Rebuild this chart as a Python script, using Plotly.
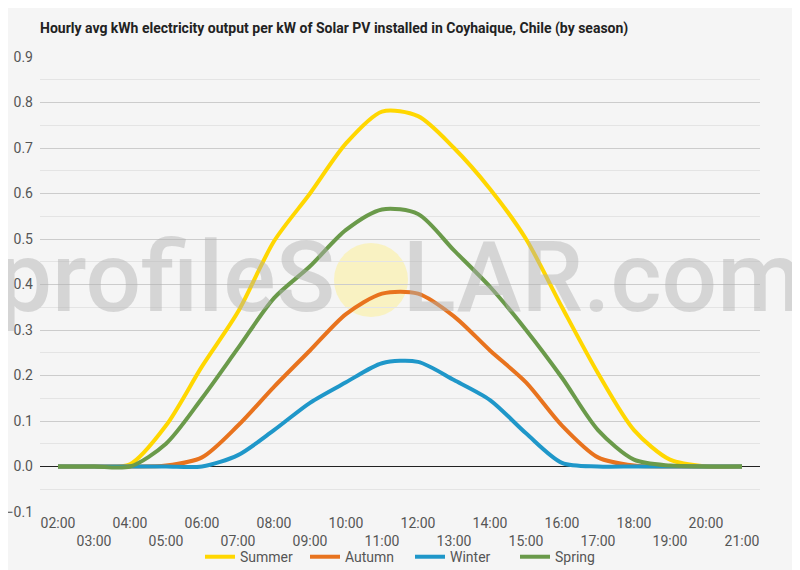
import plotly.graph_objects as go

hours = ["02:00", "03:00", "04:00", "05:00", "06:00", "07:00", "08:00", "09:00", "10:00", "11:00",
         "12:00", "13:00", "14:00", "15:00", "16:00", "17:00", "18:00", "19:00", "20:00", "21:00"]
tick_labels = [h if i % 2 == 0 else "<br>" + h for i, h in enumerate(hours)]

summer = [0, 0, 0.005, 0.09, 0.22, 0.34, 0.495, 0.60, 0.71, 0.78, 0.77, 0.70, 0.61, 0.50, 0.35, 0.205, 0.08, 0.015, 0, 0]
autumn = [0, 0, 0, 0.002, 0.02, 0.09, 0.175, 0.255, 0.335, 0.38, 0.38, 0.33, 0.255, 0.185, 0.09, 0.02, 0.002, 0, 0, 0]
winter = [0, 0, 0, 0, 0, 0.025, 0.08, 0.14, 0.185, 0.227, 0.23, 0.19, 0.146, 0.073, 0.008, 0, 0, 0, 0, 0]
spring = [0, 0, 0, 0.05, 0.15, 0.26, 0.37, 0.44, 0.52, 0.565, 0.555, 0.475, 0.395, 0.30, 0.195, 0.08, 0.015, 0.002, 0, 0]

series = [("Summer", summer, "#FFD700"), ("Autumn", autumn, "#E8731E"),
          ("Winter", winter, "#1F97C9"), ("Spring", spring, "#6A9A4A")]

fig = go.Figure()
for name, vals, col in series:
    fig.add_trace(go.Scatter(x=hours, y=vals, name=name, mode="lines",
                             line=dict(color=col, width=4, shape="spline", smoothing=0.8)))

# page is offset 8px by the browser body margin; plot area spans page x 40-760, y 57-512
fig.add_shape(type="circle", xref="paper", yref="paper",
              x0=(334 - 40) / 720, x1=(408 - 40) / 720,
              y0=(512 - 317) / 455, y1=(512 - 243) / 455,
              fillcolor="rgba(252,240,160,0.6)", line=dict(width=0), layer="below")
fig.add_annotation(xref="paper", yref="paper", x=(400 - 40) / 720, y=(512 - 277) / 455,
                   text='profileS<span style="color:rgba(0,0,0,0)">O</span>LAR.com',
                   showarrow=False, xanchor="center", yanchor="middle",
                   font=dict(family="Roboto", size=98, weight=500, color="rgba(175,175,175,0.45)"))

fig.update_layout(
    width=792, height=562,
    paper_bgcolor="#f5f5f5", plot_bgcolor="#f5f5f5",
    margin=dict(l=32, r=40, t=49, b=58, autoexpand=False),
    font=dict(family="Roboto", size=14, color="#555555"),
    title=dict(text="<b>Hourly avg kWh electricity output per kW of Solar PV installed in Coyhaique, Chile (by season)</b>",
               x=32 / 792, xanchor="left", y=1 - 20 / 562, yanchor="middle",
               font=dict(family="Roboto", size=14, color="#222222")),
    showlegend=True,
    legend=dict(orientation="h", x=(200 - 40) / 720, xanchor="left", y=-0.064, yanchor="top",
                entrywidth=60, entrywidthmode="pixels",
                font=dict(size=14, color="#555555"), bgcolor="rgba(0,0,0,0)"),
    xaxis=dict(type="category", tickmode="array", tickvals=hours, ticktext=tick_labels,
               range=[-0.5, 19.5], automargin=False,
               showgrid=False, ticks="", tickangle=0, showline=False, zeroline=False,
               ticklabelstandoff=1),
    yaxis=dict(range=[-0.1, 0.9], dtick=0.1, tickformat=".1f", showgrid=True, automargin=False,
               gridcolor="#cccccc", gridwidth=1, zeroline=True, zerolinecolor="#222222",
               zerolinewidth=1, ticks="", showline=False, ticklabelstandoff=6,
               minor=dict(dtick=0.05, showgrid=True, gridcolor="#e4e4e4", gridwidth=1)),
)

fig.write_html("out.html")
